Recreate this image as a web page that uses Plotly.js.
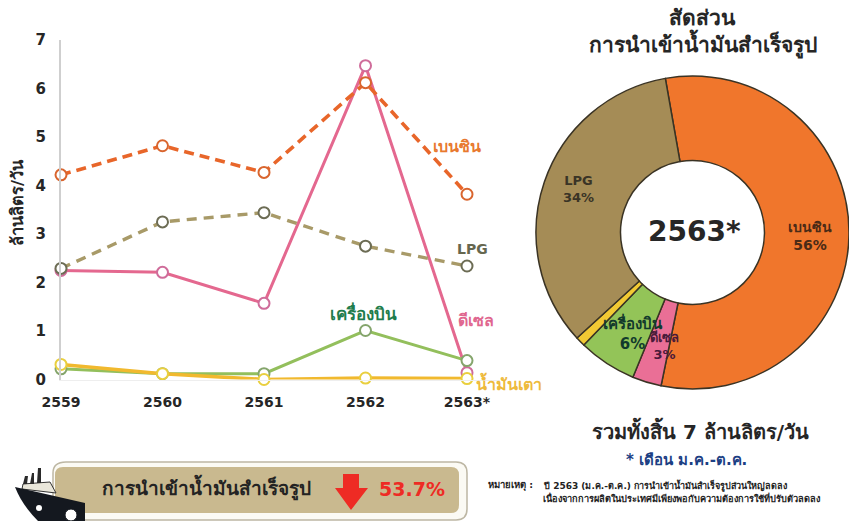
<!DOCTYPE html>
<html><head><meta charset="utf-8">
<script src="https://cdn.plot.ly/plotly-3.0.1.min.js"></script>
<style>html,body{margin:0;padding:0;background:#fff}#c{width:849px;height:521px}</style>
</head><body><div id="c"></div>
<script>
const years = ['2559','2560','2561','2562','2563*'];
const benzin = [4.22,4.82,4.27,6.12,3.82];
const lpg = [2.29,3.25,3.44,2.75,2.34];
const diesel = [2.25,2.21,1.57,6.47,0.14];
const jet = [0.22,0.12,0.12,1.01,0.39];
const fuelOil = [0.31,0.12,0.0,0.03,0.02];
const yTicks = [0,1,2,3,4,5,6,7];
const pieLabels = ['เบนซิน','ดีเซล','เครื่องบิน','น้ำมันเตา','LPG'];
const pieValues = [56,3,6,1,34];
const pieColors = ['#f0762c','#ea6f96','#93c458','#f2c933','#a58c56'];

const W=849,H=521;
const fx=x=>x/W, fy=y=>1-y/H;
const FONT='"DejaVu Sans","Noto Sans",sans-serif';
const line=(name,y,color,markerLine,dash,width)=>({type:'scatter',mode:'lines+markers',name,x:years,y,cliponaxis:false,
  line:{color,width:width||3,dash:dash||'solid'},
  marker:{size:11,color:'#fff',line:{color:markerLine||color,width:2}},showlegend:false});
const ann=(text,x,y,size,color,extra)=>Object.assign({text,xref:'paper',yref:'paper',x:fx(x),y:fy(y),xanchor:'center',yanchor:'middle',
  showarrow:false,font:{family:FONT,size,color,weight:700}},extra||{});
const data=[
  line('ดีเซล',diesel,'#e4688f','#cf6c9a'),
  line('LPG',lpg,'#a89a68','#6c6c54','10px,7px',3.4),
  line('เบนซิน',benzin,'#e8662a','#d9652e','10px,6px',3.6),
  line('เครื่องบิน',jet,'#93bf5c','#85a56c'),
  line('น้ำมันเตา',fuelOil,'#f1b92e','#e9cf3e',null,3.6),
  {type:'pie',labels:pieLabels,values:pieValues,sort:false,direction:'clockwise',rotation:-10,hole:0.46,
   marker:{colors:pieColors,line:{color:'#3a3324',width:1.5}},textinfo:'none',showlegend:false,
   domain:{x:[fx(536),fx(849)],y:[fy(390),fy(75)]}}
];
const shapes=[
  // banner
  {type:'path',xref:'paper',yref:'paper',layer:'below',
   path:`M ${fx(66)} ${fy(462)} L ${fx(456)} ${fy(462)} Q ${fx(467)} ${fy(462)} ${fx(467)} ${fy(473)} L ${fx(467)} ${fy(509)} Q ${fx(467)} ${fy(520)} ${fx(456)} ${fy(520)} L ${fx(66)} ${fy(520)} Q ${fx(53)} ${fy(520)} ${fx(53)} ${fy(509)} L ${fx(53)} ${fy(473)} Q ${fx(53)} ${fy(462)} ${fx(66)} ${fy(462)} Z`,
   fillcolor:'#fbfaf4',line:{color:'#bdb7a4',width:1.5}},
  {type:'path',xref:'paper',yref:'paper',layer:'below',
   path:`M ${fx(63)} ${fy(467)} L ${fx(451)} ${fy(467)} Q ${fx(459)} ${fy(467)} ${fx(459)} ${fy(475)} L ${fx(459)} ${fy(505)} Q ${fx(459)} ${fy(513)} ${fx(451)} ${fy(513)} L ${fx(63)} ${fy(513)} Q ${fx(55)} ${fy(513)} ${fx(55)} ${fy(505)} L ${fx(55)} ${fy(475)} Q ${fx(55)} ${fy(467)} ${fx(63)} ${fy(467)} Z`,
   fillcolor:'#c9b98f',line:{width:0}},
  // ship superstructure
  {type:'path',xref:'paper',yref:'paper',path:`M ${fx(22)} ${fy(489)} L ${fx(23)} ${fy(484)} L ${fx(50)} ${fy(482)} L ${fx(56)} ${fy(493)} Z`,fillcolor:'#e9e6da',line:{color:'#333',width:1}},
  {type:'path',xref:'paper',yref:'paper',path:`M ${fx(23)} ${fy(484)} L ${fx(25)} ${fy(476)} L ${fx(28)} ${fy(476)} L ${fx(27)} ${fy(484)} Z M ${fx(30)} ${fy(484)} L ${fx(32)} ${fy(473)} L ${fx(34)} ${fy(473)} L ${fx(34)} ${fy(484)} Z M ${fx(37)} ${fy(483)} L ${fx(38)} ${fy(468)} L ${fx(41)} ${fy(468)} L ${fx(41)} ${fy(483)} Z`,fillcolor:'#2a2a2a',line:{width:0}},
  // ship hull
  {type:'path',xref:'paper',yref:'paper',path:`M ${fx(15)} ${fy(487)} L ${fx(85)} ${fy(503)} L ${fx(85)} ${fy(521)} L ${fx(38)} ${fy(521)} Q ${fx(22)} ${fy(505)} ${fx(15)} ${fy(487)} Z`,fillcolor:'#14181f',line:{width:0}},
  {type:'circle',xref:'paper',yref:'paper',x0:fx(36),x1:fx(42),y0:fy(511),y1:fy(505),fillcolor:'#fff',line:{width:0}},
  {type:'circle',xref:'paper',yref:'paper',x0:fx(65),x1:fx(77),y0:fy(521),y1:fy(509),fillcolor:'#fff',line:{color:'#14181f',width:1}},
  // down arrow
  {type:'path',xref:'paper',yref:'paper',path:`M ${fx(343)} ${fy(474)} L ${fx(359)} ${fy(474)} L ${fx(359)} ${fy(488)} L ${fx(368)} ${fy(488)} L ${fx(351)} ${fy(510)} L ${fx(335)} ${fy(488)} L ${fx(343)} ${fy(488)} Z`,fillcolor:'#ee2b24',line:{width:0}}
];
const annotations=[
  ann('เบนซิน',457,146,16,'#e8792f'),
  ann('LPG',473,249,14,'#66674f'),
  ann('ดีเซล',476,320,16,'#e0678f'),
  ann('เครื่องบิน',363,313,17,'#1f7d4c'),
  ann('น้ำมันเตา',509,383,16,'#eeba3c'),
  ann('ล้านลิตร/วัน',18,203,16.5,'#262626',{textangle:-90}),
  ann('สัดส่วน',702,18,21,'#262626'),
  ann('การนำเข้าน้ำมันสำเร็จรูป',703,44,21,'#262626'),
  ann('2563*',694,231,28,'#262626'),
  ann('LPG<br>34%',578,189,13,'#3a3426'),
  ann('เบนซิน<br>56%',810,236,14,'#4a2a16'),
  ann('เครื่องบิน<br>6%',633,333,15,'#123a2c'),
  ann('ดีเซล<br>3%',664,346,13,'#4a1a3a'),
  ann('รวมทั้งสิ้น 7 ล้านลิตร/วัน',700,430,20,'#262626'),
  ann('* เดือน ม.ค.-ต.ค.',686,460,15,'#1c3f84'),
  ann('การนำเข้าน้ำมันสำเร็จรูป',206,487,19,'#232323'),
  ann('53.7%',412,489,19,'#ee2b24'),
  ann('หมายเหตุ :',486,485,9.5,'#222',{xanchor:'left'}),
  ann('ปี 2563 (ม.ค.-ต.ค.) การนำเข้าน้ำมันสำเร็จรูปส่วนใหญ่ลดลง',541,485,9,'#222',{xanchor:'left'}),
  ann('เนื่องจากการผลิตในประเทศมีเพียงพอกับความต้องการใช้ที่ปรับตัวลดลง',541,498,9.2,'#222',{xanchor:'left'})
];
const layout={width:W,height:H,margin:{l:0,r:0,t:0,b:0},paper_bgcolor:'#fff',plot_bgcolor:'#fff',showlegend:false,
  font:{family:FONT},
  xaxis:{type:'category',domain:[fx(61),fx(500)],range:[0,4.325],showgrid:false,zeroline:false,showline:true,linecolor:'#eeeeee',linewidth:1,
    ticks:'outside',ticklen:10,tickcolor:'rgba(0,0,0,0)',tickfont:{family:FONT,size:14,color:'#262626',weight:700},fixedrange:true},
  yaxis:{domain:[fy(379.5),fy(40)],range:[0,7],tickvals:yTicks,showgrid:false,zeroline:false,showline:true,linecolor:'#cfcfcf',linewidth:2,
    ticks:'outside',ticklen:10,tickcolor:'rgba(0,0,0,0)',tickfont:{family:FONT,size:15,color:'#262626',weight:700},fixedrange:true},
  shapes,annotations
};
Plotly.newPlot('c',data,layout,{displayModeBar:false,staticPlot:true});
</script></body></html>
